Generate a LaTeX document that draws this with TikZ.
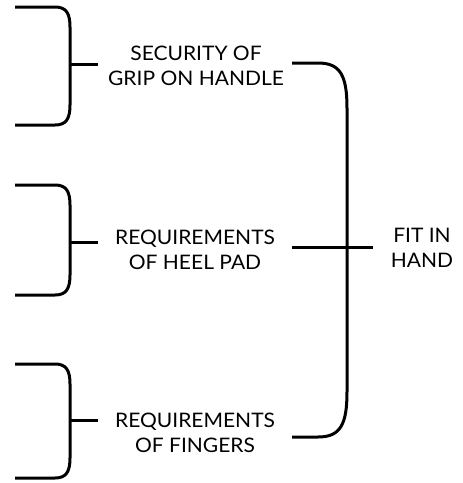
\documentclass[tikz,border=0pt]{standalone}
\usepackage{fontspec}
\setmainfont{Lato}[FakeStretch=1.05]
\begin{document}
\begin{tikzpicture}[x=1pt,y=-1pt,
  brk/.style={line width=3pt,line cap=butt,line join=round},
  lbl/.style={font=\fontsize{20}{25}\selectfont,align=center,inner sep=0pt,anchor=center}]
\useasboundingbox (0,0) rectangle (463,483);
% labels
\node[lbl] (grip) at (196,66) {SECURITY OF\\GRIP ON HANDLE};
\node[lbl] (heel) at (195,249.5) {REQUIREMENTS\\OF HEEL PAD};
\node[lbl] (fing) at (195,433) {REQUIREMENTS\\OF FINGERS};
\node[lbl] (fit) at (422,247.5) {FIT IN\\HAND};
% left brackets
\foreach \t/\b/\m/\n in {7/125/64/a, 185/295/242/b, 364/478/420/c}{
  \coordinate (top\n) at (15,\t);
  \coordinate (bot\n) at (15,\b);
  \coordinate (mid\n) at (70,\m);
  \coordinate (tip\n) at (98,\m);
  \draw[brk] (top\n) -- (55,\t) .. controls (66,\t) and (70,\t+6) .. (70,\t+20)
    -- (70,\b-20) .. controls (70,\b-6) and (66,\b) .. (55,\b) -- (bot\n);
  \draw[brk] (mid\n) -- (tip\n);
}
% right bracket
\coordinate (rtop) at (292,63);
\coordinate (rbot) at (292,437);
\coordinate (rmidl) at (292,247);
\coordinate (rmidr) at (373,247);
\draw[brk] (rtop) -- (318,63) .. controls (340,63) and (347,75) .. (347,108)
  -- (347,392) .. controls (347,425) and (340,437) .. (318,437) -- (rbot);
\draw[brk] (rmidl) -- (rmidr);
\end{tikzpicture}
\end{document}
